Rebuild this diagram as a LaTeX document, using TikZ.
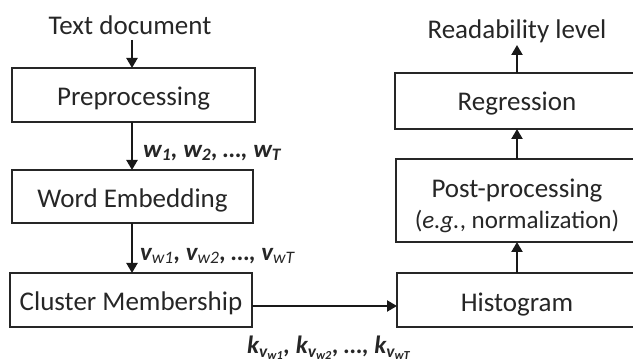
\documentclass[tikz,border=0pt]{standalone}
\usepackage{fontspec}
\setmainfont{Carlito}
\usetikzlibrary{arrows.meta}
\begin{document}
\begin{tikzpicture}[x=1pt,y=-1pt,
  box/.style={draw=black!85,line width=2.2pt},
  btext/.style={font=\fontsize{27}{31}\selectfont,text=black!85},
  lbl/.style={font=\fontsize{25}{28}\selectfont\bfseries\itshape,text=black!85,inner sep=0pt},
  arr/.style={line width=2.2pt,draw=black!90,-{Triangle[length=10pt,width=11pt]}}]
\useasboundingbox (0,0) rectangle (633,363);
\clip (0,0) rectangle (633,363);
% left column
\node[btext,anchor=center] (td) at (130,25) {Text document};
\draw[box] (12,68) rectangle (255,122);
\node[btext] (pre) at (133.5,99) {Preprocessing};
\coordinate (preT) at (132,68);
\coordinate (preB) at (132,122);
\coordinate (tdB) at (132,40);
\draw[arr] (tdB) -- (preT);
\draw[box] (12,170) rectangle (253,223);
\node[btext] (we) at (132.5,200) {Word Embedding};
\coordinate (weT) at (132,170);
\coordinate (weB) at (132,223);
\draw[arr] (preB) -- (weT);
\node[lbl,anchor=west] (wl) at (143,153) {w\textsubscript{1}, w\textsubscript{2}, …, w\textsubscript{T}};
\draw[box] (10,273) rectangle (252,327);
\node[btext] (cm) at (131,303) {Cluster Membership};
\coordinate (cmT) at (132,273);
\coordinate (cmE) at (252,306);
\draw[arr] (weB) -- (cmT);
\node[lbl,anchor=west] (vl) at (140,256) {v\textsubscript{\mdseries w1}, v\textsubscript{\mdseries w2}, …, v\textsubscript{\mdseries wT}};
% right column
\draw[box] (397,273) rectangle (642,327);
\node[btext] (hi) at (517,305) {Histogram};
\coordinate (hiW) at (397,306);
\coordinate (hiT) at (517,273);
\draw[arr] (cmE) -- (hiW);
\node[lbl,anchor=west] (kl) at (247,348) {k\textsubscript{v\textsubscript{w1}}, k\textsubscript{v\textsubscript{w2}}, …, k\textsubscript{v\textsubscript{wT}}};
\draw[box] (396,159) rectangle (642,242);
\node[btext,align=center] (pp) at (517,206) {Post-processing\\{\fontsize{25}{29}\selectfont(\textit{e.g.}, normalization)}};
\coordinate (ppT) at (517,159);
\coordinate (ppB) at (517,242);
\draw[arr] (hiT) -- (ppB);
\draw[box] (395,73) rectangle (642,129);
\node[btext] (rg) at (517,104) {Regression};
\coordinate (rgT) at (517,73);
\coordinate (rgB) at (517,129);
\draw[arr] (ppT) -- (rgB);
\node[btext] (rl) at (517,31) {Readability level};
\coordinate (rlB) at (517,45);
\draw[arr] (rgT) -- (rlB);
\end{tikzpicture}
\end{document}
